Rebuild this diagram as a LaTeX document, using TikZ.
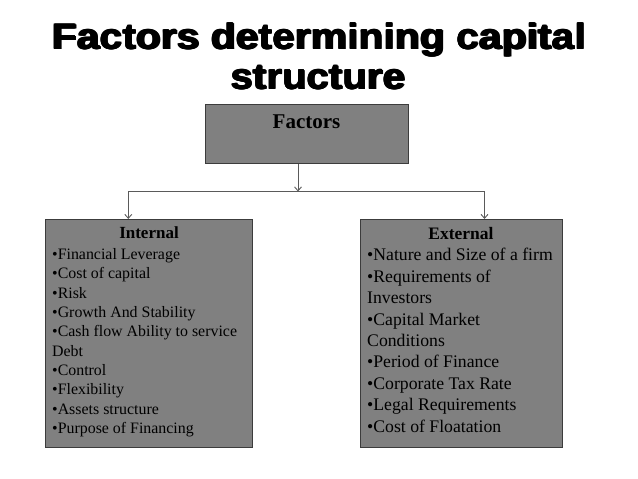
\documentclass[tikz,border=0pt]{standalone}
\usepackage{fontspec}
\setmainfont{Liberation Serif}
\newfontfamily\titlefont{Liberation Sans Bold}
\newcommand\heavytext[1]{\rlap{#1}\rlap{\kern0.6pt#1}\rlap{\raisebox{0.6pt}{#1}}\rlap{\raisebox{0.6pt}{\kern0.6pt#1}}\rlap{\raisebox{-0.4pt}{\kern0.3pt#1}}\kern1.2pt#1}
\usetikzlibrary{arrows.meta}
\definecolor{boxfill}{HTML}{808080}
\definecolor{boxline}{HTML}{3C3C3C}
\definecolor{conn}{HTML}{5A5A5A}
\tikzset{
  titletext/.style={inner sep=0pt, anchor=base, font=\titlefont\fontsize{35}{40}\selectfont},
  graybox/.style={draw=boxline, line width=1.2pt, fill=boxfill, inner sep=0pt, anchor=north west},
  headtext/.style={inner sep=0pt, anchor=base, font=\bfseries\fontsize{#1}{#1}\selectfont},
  listtext/.style={inner sep=0pt, anchor=north west, align=left},
  conline/.style={draw=conn, line width=0.9pt},
  conarrow/.style={conline, -{Straight Barb[length=4pt,width=7pt]}}
}
\begin{document}
\begin{tikzpicture}[x=1pt,y=-1pt]
\useasboundingbox (0,0) rectangle (638,479);
% title
\node[titletext] (t1) at (319.5,49) {\scalebox{1.168}[1.02]{\heavytext{Factors determining capital}}};
\node[titletext] (t2) at (318.5,89) {\scalebox{1.15}[1.02]{\heavytext{structure}}};
% boxes
\node[graybox, minimum width=203pt, minimum height=59pt] (factors) at (205,104) {};
\node[headtext=21] (factorsT) at (306.5,128) {Factors};
\node[graybox, minimum width=207pt, minimum height=228pt] (internal) at (45,219) {};
\node[graybox, minimum width=202pt, minimum height=228pt] (external) at (360,219) {};
\node[headtext=17] (internalT) at (149,238.5) {Internal};
\node[headtext=17.5] (externalT) at (461,239.5) {External};
\node[listtext, font=\fontsize{15.9}{19.33}\selectfont] (internalL) at (52,248.3) {%
•Financial Leverage\\
•Cost of capital\\
•Risk\\
•Growth And Stability\\
•Cash flow Ability to service\\
Debt\\
•Control\\
•Flexibility\\
•Assets structure\\
•Purpose of Financing};
\node[listtext, font=\fontsize{17.7}{21.4}\selectfont] (externalL) at (367,248.3) {%
•Nature and Size of a firm\\
•Requirements of\\
Investors\\
•Capital Market\\
Conditions\\
•Period of Finance\\
•Corporate Tax Rate\\
•Legal Requirements\\
•Cost of Floatation};
% connectors
\coordinate (j) at (298,191.5);
\coordinate (jl) at (128.3,191.5);
\coordinate (jr) at (484.5,191.5);
\draw[conarrow] (factors.south -| j) -- (j);
\draw[conline] (jl) -- (jr);
\draw[conarrow] (jl) -- (internal.north -| jl);
\draw[conarrow] (jr) -- (external.north -| jr);
\end{tikzpicture}
\end{document}
